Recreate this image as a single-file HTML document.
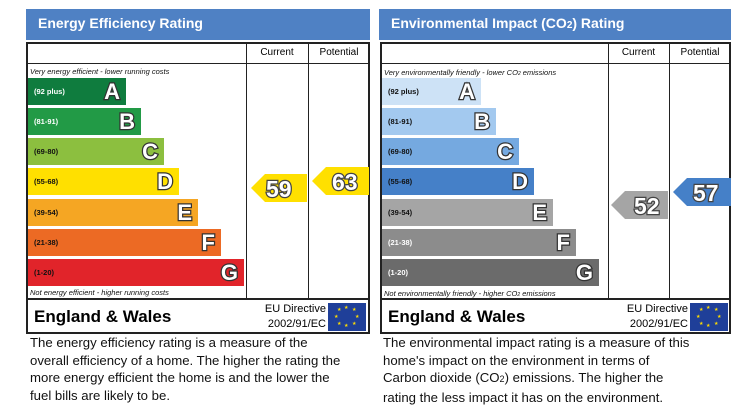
<!DOCTYPE html><html><head><style>
body{margin:0;width:747px;height:403px;background:#fff;position:relative;overflow:hidden;font-family:"Liberation Sans",sans-serif}
div{position:absolute;box-sizing:border-box}
.hd{background:#4f81c4;color:#fff;font-weight:bold;font-size:14px;padding:6px 0 0 12px;height:31px;top:9px}
.box{border:2px solid #222;top:42px;height:292px}
.vl{width:1px;background:#222;top:42px;height:257px}
.hl{height:1px;background:#222}
.ch{font-size:10px;top:47px;text-align:center}
.bar{height:27px;left:2px}
.rg{font-size:7.5px;font-weight:bold;left:6px;top:9px;color:#111}
.lt{font-size:22px;font-weight:bold;color:#fff;right:6px;top:1px;-webkit-text-stroke:2.5px #333;paint-order:stroke fill}
.it{font-size:7.5px;font-style:italic;color:#111}
.ew{font-size:17px;font-weight:bold;top:307px}
.eu{font-size:11px;text-align:right;line-height:15px;top:302px}
.flag{background:#1f3f99;width:38px;height:28px;top:303px}
.flag span{position:absolute;color:#ffdd00;font-size:5px}
.desc{font-size:13.2px;line-height:17.6px;top:334px;color:#111}
.num{font-size:23px;font-weight:bold;color:#fff;-webkit-text-stroke:2.5px #444;paint-order:stroke fill}
</style></head><body>
<!-- LEFT -->
<div class="hd" style="left:26px;width:344px">Energy Efficiency Rating</div>
<div class="box" style="left:26px;width:344px"></div>
<div class="hl" style="left:26px;width:344px;top:63px"></div>
<div class="hl" style="left:26px;width:344px;top:298px;height:2px"></div>
<div class="vl" style="left:246px"></div><div class="vl" style="left:308px"></div>
<div class="ch" style="left:246px;width:62px">Current</div><div class="ch" style="left:308px;width:62px">Potential</div>
<div class="it" style="left:30px;top:67px">Very energy efficient - lower running costs</div>
<div class="bar" style="left:28px;top:78px;width:98px;background:#0f7c3e"><div class="rg" style="color:#fff">(92 plus)</div><div class="lt">A</div></div>
<div class="bar" style="left:28px;top:108px;width:113px;background:#229a46"><div class="rg" style="color:#fff">(81-91)</div><div class="lt">B</div></div>
<div class="bar" style="left:28px;top:138px;width:136px;background:#8cbf3f"><div class="rg">(69-80)</div><div class="lt">C</div></div>
<div class="bar" style="left:28px;top:168px;width:151px;background:#ffe000"><div class="rg">(55-68)</div><div class="lt">D</div></div>
<div class="bar" style="left:28px;top:199px;width:170px;background:#f5a623"><div class="rg">(39-54)</div><div class="lt">E</div></div>
<div class="bar" style="left:28px;top:229px;width:193px;background:#ec6a24"><div class="rg">(21-38)</div><div class="lt">F</div></div>
<div class="bar" style="left:28px;top:259px;width:216px;background:#e1242a"><div class="rg">(1-20)</div><div class="lt">G</div></div>
<div class="it" style="left:30px;top:288px">Not energy efficient - higher running costs</div>
<svg style="position:absolute;left:251px;top:174px" width="56" height="28"><polygon points="0,14 14,0 56,0 56,28 14,28" fill="#ffe000"/></svg>
<div class="num" style="left:266px;top:176px">59</div>
<svg style="position:absolute;left:312px;top:167px" width="57" height="28"><polygon points="0,14 14,0 57,0 57,28 14,28" fill="#ffe000"/></svg>
<div class="num" style="left:332px;top:169px">63</div>
<div class="ew" style="left:34px">England &amp; Wales</div>
<div class="eu" style="left:250px;width:76px">EU Directive<br>2002/91/EC</div>
<div class="flag" style="left:328px"><span style="left:16px;top:2px">★</span><span style="left:16px;top:20px">★</span><span style="left:6px;top:11px">★</span><span style="left:27px;top:11px">★</span><span style="left:9px;top:4px">★</span><span style="left:24px;top:4px">★</span><span style="left:9px;top:18px">★</span><span style="left:24px;top:18px">★</span></div>
<div class="desc" style="left:30px">The energy efficiency rating is a measure of the<br>overall efficiency of a home. The higher the rating the<br>more energy efficient the home is and the lower the<br>fuel bills are likely to be.</div>
<!-- RIGHT -->
<div class="hd" style="left:379px;width:352px">Environmental Impact (CO<span style="font-size:10px">2</span>) Rating</div>
<div class="box" style="left:380px;width:351px"></div>
<div class="hl" style="left:380px;width:351px;top:63px"></div>
<div class="hl" style="left:380px;width:351px;top:298px;height:2px"></div>
<div class="vl" style="left:608px"></div><div class="vl" style="left:669px"></div>
<div class="ch" style="left:608px;width:61px">Current</div><div class="ch" style="left:669px;width:62px">Potential</div>
<div class="it" style="left:384px;top:68px">Very environmentally friendly - lower CO<span style="font-size:5px">2</span> emissions</div>
<div class="bar" style="left:382px;top:78px;width:99px;background:#cde2f6"><div class="rg">(92 plus)</div><div class="lt">A</div></div>
<div class="bar" style="left:382px;top:108px;width:114px;background:#a3c9ef"><div class="rg">(81-91)</div><div class="lt">B</div></div>
<div class="bar" style="left:382px;top:138px;width:137px;background:#75a9e0"><div class="rg">(69-80)</div><div class="lt">C</div></div>
<div class="bar" style="left:382px;top:168px;width:152px;background:#4580c8"><div class="rg">(55-68)</div><div class="lt">D</div></div>
<div class="bar" style="left:382px;top:199px;width:171px;background:#a5a5a5"><div class="rg">(39-54)</div><div class="lt">E</div></div>
<div class="bar" style="left:382px;top:229px;width:194px;background:#8c8c8c"><div class="rg" style="color:#fff">(21-38)</div><div class="lt">F</div></div>
<div class="bar" style="left:382px;top:259px;width:217px;background:#6b6b6b"><div class="rg" style="color:#fff">(1-20)</div><div class="lt">G</div></div>
<div class="it" style="left:384px;top:289px">Not environmentally friendly - higher CO<span style="font-size:5px">2</span> emissions</div>
<svg style="position:absolute;left:611px;top:191px" width="57" height="28"><polygon points="0,14 14,0 57,0 57,28 14,28" fill="#a5a5a5"/></svg>
<div class="num" style="left:634px;top:193px">52</div>
<svg style="position:absolute;left:673px;top:178px" width="58" height="28"><polygon points="0,14 14,0 58,0 58,28 14,28" fill="#4580c8"/></svg>
<div class="num" style="left:693px;top:180px">57</div>
<div class="ew" style="left:388px">England &amp; Wales</div>
<div class="eu" style="left:610px;width:78px">EU Directive<br>2002/91/EC</div>
<div class="flag" style="left:690px"><span style="left:16px;top:2px">★</span><span style="left:16px;top:20px">★</span><span style="left:6px;top:11px">★</span><span style="left:27px;top:11px">★</span><span style="left:9px;top:4px">★</span><span style="left:24px;top:4px">★</span><span style="left:9px;top:18px">★</span><span style="left:24px;top:18px">★</span></div>
<div class="desc" style="left:383px">The environmental impact rating is a measure of this<br>home's impact on the environment in terms of<br>Carbon dioxide (CO<span style="font-size:9px">2</span>) emissions. The higher the<br>rating the less impact it has on the environment.</div>
</body></html>
